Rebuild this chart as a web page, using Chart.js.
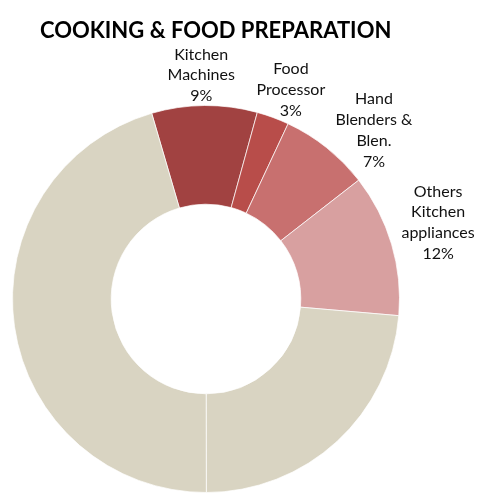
<!DOCTYPE html>
<html>
<head>
<meta charset="utf-8">
<script src="https://cdn.jsdelivr.net/npm/chart.js@4"></script>
<style>
  html, body { margin: 0; padding: 0; background: #fff; }
  #wrap { position: relative; width: 489px; height: 502px; }
  #title { position: absolute; left: 40px; top: 17px; font: bold 22px Lato, sans-serif; color: #000; white-space: nowrap; line-height: 26px; }
  canvas { position: absolute; left: 0; top: 0; }
</style>
</head>
<body>
<div id="wrap">
  <canvas id="chart" width="489" height="502"></canvas>
  <div id="title">COOKING &amp; FOOD PREPARATION</div>
</div>
<script>
// slices, clockwise starting from the top-left dark red one
const categories = ['Kitchen Machines', 'Food Processor', 'Hand Blenders & Blen.', 'Others Kitchen appliances', 'Rest (right)', 'Rest (left)'];
const shares = [8.8, 2.7, 7.5, 11.9, 23.6, 45.5];
const shownPct = ['9%', '3%', '7%', '12%', null, null];
const labelLines = [['Kitchen', 'Machines'], ['Food', 'Processor'], ['Hand', 'Blenders &', 'Blen.'], ['Others', 'Kitchen', 'appliances'], null, null];
const colors = ['#a14241', '#b84d4a', '#c8706f', '#d8a0a0', '#d9d4c2', '#d9d4c2'];
// manual label tweaks (like dragged labels in the original)
const labelNudge = [[-3, 1], [7, 2], [22, 14], [11, -11], null, null];

const LABEL_FONT = '16px Lato, sans-serif';
const LINE_H = 20.8;

const outsideLabels = {
  id: 'outsideLabels',
  afterDatasetsDraw(chart) {
    const ctx = chart.ctx;
    const arcs = chart.getDatasetMeta(0).data;
    ctx.save();
    ctx.font = LABEL_FONT;
    ctx.fillStyle = '#111';
    ctx.textAlign = 'center';
    ctx.textBaseline = 'middle';
    arcs.forEach((arc, i) => {
      if (!labelLines[i]) return;
      const lines = labelLines[i].concat([shownPct[i]]);
      const p = arc.getProps(['x', 'y', 'startAngle', 'endAngle', 'outerRadius'], true);
      const mid = (p.startAngle + p.endAngle) / 2;
      const c = Math.cos(mid), s = Math.sin(mid);
      const hw = Math.max(...lines.map(t => ctx.measureText(t).width)) / 2;
      const hh = lines.length * LINE_H / 2;
      const d = p.outerRadius + Math.sqrt((hw * c) ** 2 + (hh * s) ** 2);
      const cx = p.x + d * c + labelNudge[i][0];
      const cy = p.y + d * s + labelNudge[i][1];
      lines.forEach((t, k) => {
        ctx.fillText(t, cx, cy + (k - (lines.length - 1) / 2) * LINE_H);
      });
    });
    ctx.restore();
  }
};

new Chart(document.getElementById('chart'), {
  type: 'doughnut',
  data: {
    labels: categories,
    datasets: [{
      data: shares,
      backgroundColor: colors,
      borderColor: 'rgba(255,255,255,0.7)',
      borderWidth: 1
    }]
  },
  options: {
    responsive: false,
    animation: false,
    devicePixelRatio: 1,
    rotation: -16.3,
    cutout: '49%',
    layout: { padding: { left: 12, right: 89, top: 105, bottom: 9 } },
    plugins: {
      legend: { display: false },
      tooltip: { enabled: false }
    }
  },
  plugins: [outsideLabels]
});
</script>
</body>
</html>
